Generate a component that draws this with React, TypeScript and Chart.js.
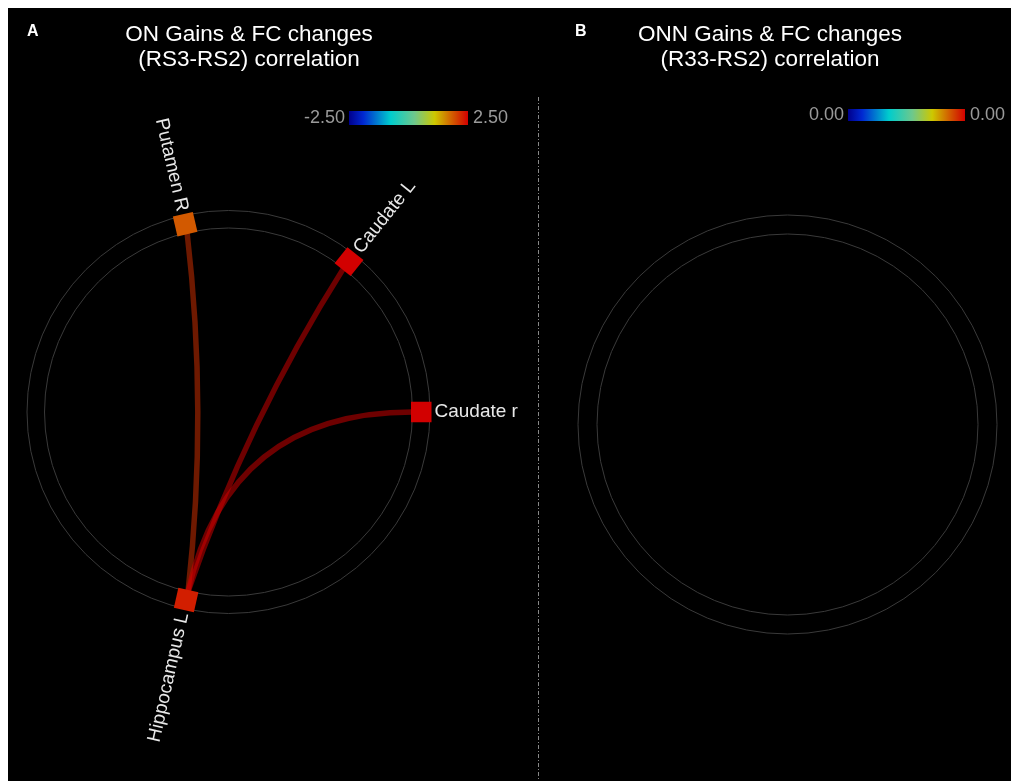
import React, { useEffect, useRef } from "react";
import { Chart, registerables } from "chart.js";

Chart.register(...registerables);

// ---- Panel A: regions, angular position (degrees clockwise from 12 o'clock) and node value
const regionsA = ["Putamen R", "Caudate L", "Caudate r", "Hippocampus L"];
const anglesA = [-13, 38.7, 90, 192.7];
const nodeValuesA = [1.86, 2.5, 2.5, 2.28];

// ---- Panel A: connections (index into regionsA) and their values
const edgeSourceA = [3, 3, 3];
const edgeTargetA = [0, 1, 2];
const edgeValuesA = [2.15, 2.5, 2.5];

// ---- Titles and colour ranges
const titlesA = ["ON Gains & FC changes", "(RS3-RS2) correlation"];
const titlesB = ["ONN Gains & FC changes", "(R33-RS2) correlation"];
const colorRangeA = [-2.5, 2.5];
const colorRangeB = [0, 0];
const panelLetters = ["A", "B"];

// ---- Layout (page pixel units, mapped by the chart's linear scales)
const PANELS = [
  {
    cx: 228.5, cy: 412, rOuter: 201.5, rInner: 184, titleX: 249,
    barX: 349, barY: 111, barW: 119, barH: 14, letterX: 27,
  },
  {
    cx: 787.5, cy: 424.5, rOuter: 209.5, rInner: 190.5, titleX: 770,
    barX: 848, barY: 109, barW: 117, barH: 12, letterX: 575,
  },
];
// how far each chord's control point is pulled from the chord midpoint towards the centre
const EDGE_BEND = [0.5, 0.5, 1.0];
const DIVIDER_X = 538;
const FONT = '"Liberation Sans", Arial, Helvetica, sans-serif';

// jet-like colour map used for nodes, links and the colour bars
const CMAP: [number, number, number, number][] = [
  [0.0, 0, 0, 140],
  [0.12, 0, 40, 210],
  [0.35, 0, 205, 205],
  [0.55, 110, 200, 140],
  [0.72, 205, 200, 0],
  [0.87, 210, 90, 0],
  [1.0, 210, 0, 0],
];

function cmapRGB(t: number): [number, number, number] {
  const tt = Math.max(0, Math.min(1, t));
  for (let i = 1; i < CMAP.length; i++) {
    if (tt <= CMAP[i][0]) {
      const a = CMAP[i - 1];
      const b = CMAP[i];
      const f = (tt - a[0]) / (b[0] - a[0]);
      return [
        Math.round(a[1] + (b[1] - a[1]) * f),
        Math.round(a[2] + (b[2] - a[2]) * f),
        Math.round(a[3] + (b[3] - a[3]) * f),
      ];
    }
  }
  const l = CMAP[CMAP.length - 1];
  return [l[1], l[2], l[3]];
}

function valueColor(v: number, range: number[], alpha = 1): string {
  const span = range[1] - range[0];
  const t = span === 0 ? 0.5 : (v - range[0]) / span;
  const [r, g, b] = cmapRGB(t);
  return `rgba(${r},${g},${b},${alpha})`;
}

function polar(p: (typeof PANELS)[number], angleDeg: number, radius: number) {
  const a = (angleDeg * Math.PI) / 180;
  return { x: p.cx + radius * Math.sin(a), y: p.cy - radius * Math.cos(a) };
}

const connectogramPlugin = {
  id: "connectogram",
  beforeDraw(chart: any) {
    const { ctx, width, height } = chart;
    ctx.save();
    ctx.fillStyle = "#000";
    ctx.fillRect(0, 0, width, height);
    ctx.restore();
  },
  beforeDatasetsDraw(chart: any) {
    const { ctx } = chart;
    const sx = chart.scales.x;
    const sy = chart.scales.y;
    const px = (x: number) => sx.getPixelForValue(x);
    const py = (y: number) => sy.getPixelForValue(y);
    const unit = Math.abs(sx.getPixelForValue(1) - sx.getPixelForValue(0));

    ctx.save();
    // rings
    PANELS.forEach((p) => {
      ctx.strokeStyle = "rgba(58,58,58,1)";
      ctx.lineWidth = 1;
      [p.rOuter, p.rInner].forEach((r) => {
        ctx.beginPath();
        ctx.arc(px(p.cx), py(p.cy), r * unit, 0, Math.PI * 2);
        ctx.stroke();
      });
    });

    // chords of panel A
    const pA = PANELS[0];
    edgeSourceA.forEach((s, i) => {
      const t = edgeTargetA[i];
      const a = polar(pA, anglesA[s], pA.rInner);
      const b = polar(pA, anglesA[t], pA.rInner);
      const mx = (a.x + b.x) / 2;
      const my = (a.y + b.y) / 2;
      const k = EDGE_BEND[i];
      const cx = mx + (pA.cx - mx) * k;
      const cy = my + (pA.cy - my) * k;
      ctx.beginPath();
      ctx.moveTo(px(a.x), py(a.y));
      ctx.quadraticCurveTo(px(cx), py(cy), px(b.x), py(b.y));
      ctx.strokeStyle = valueColor(edgeValuesA[i], colorRangeA, 0.52);
      ctx.lineWidth = 5.5;
      ctx.lineCap = "butt";
      ctx.stroke();
    });

    // divider
    ctx.strokeStyle = "rgba(160,160,160,0.85)";
    ctx.lineWidth = 1;
    ctx.setLineDash([4, 2, 1, 2]);
    ctx.beginPath();
    ctx.moveTo(Math.round(px(DIVIDER_X)) + 0.5, py(97));
    ctx.lineTo(Math.round(px(DIVIDER_X)) + 0.5, py(781));
    ctx.stroke();
    ctx.restore();
  },
  afterDraw(chart: any) {
    const { ctx } = chart;
    const sx = chart.scales.x;
    const sy = chart.scales.y;
    const px = (x: number) => sx.getPixelForValue(x);
    const py = (y: number) => sy.getPixelForValue(y);

    ctx.save();
    // region labels
    const pA = PANELS[0];
    ctx.fillStyle = "#e8e8e8";
    ctx.font = `19px ${FONT}`;
    ctx.textBaseline = "middle";
    regionsA.forEach((name, i) => {
      const pos = polar(pA, anglesA[i], 206);
      const phi = ((anglesA[i] - 90) * Math.PI) / 180;
      const rightSide = Math.sin((anglesA[i] * Math.PI) / 180) >= 0;
      ctx.save();
      ctx.translate(px(pos.x), py(pos.y));
      ctx.rotate(rightSide ? phi : phi + Math.PI);
      ctx.textAlign = rightSide ? "left" : "right";
      ctx.fillText(name, 0, 0);
      ctx.restore();
    });

    // titles, panel letters, colour bars
    const titles = [titlesA, titlesB];
    const ranges = [colorRangeA, colorRangeB];
    PANELS.forEach((p, i) => {
      ctx.fillStyle = "#ffffff";
      ctx.textAlign = "center";
      ctx.textBaseline = "middle";
      ctx.font = `22.5px ${FONT}`;
      ctx.fillText(titles[i][0], px(p.titleX), py(35));
      ctx.fillText(titles[i][1], px(p.titleX), py(60));

      ctx.textAlign = "left";
      ctx.font = `bold 16px ${FONT}`;
      ctx.fillText(panelLetters[i], px(p.letterX), py(32));

      const x0 = px(p.barX);
      const x1 = px(p.barX + p.barW);
      const grad = ctx.createLinearGradient(x0, 0, x1, 0);
      CMAP.forEach(([t, r, g, b]) => grad.addColorStop(t, `rgb(${r},${g},${b})`));
      ctx.fillStyle = grad;
      ctx.fillRect(x0, py(p.barY), x1 - x0, py(p.barY + p.barH) - py(p.barY));

      ctx.fillStyle = "#9a9a9a";
      ctx.font = `18px ${FONT}`;
      const midY = py(p.barY + p.barH / 2 + 0.5);
      ctx.textAlign = "right";
      ctx.fillText(ranges[i][0].toFixed(2), x0 - 4, midY);
      ctx.textAlign = "left";
      ctx.fillText(ranges[i][1].toFixed(2), x1 + 5, midY);
    });
    ctx.restore();
  },
};

export default function App() {
  const ref = useRef<HTMLCanvasElement>(null);

  useEffect(() => {
    document.documentElement.style.overflow = "hidden";
    const pA = PANELS[0];
    const nodeRadius = (pA.rOuter + pA.rInner) / 2;
    const nodePoints = anglesA.map((a) => polar(pA, a, nodeRadius));

    const chart = new Chart(ref.current as HTMLCanvasElement, {
      type: "scatter",
      data: {
        datasets: [
          {
            label: "Regions",
            data: nodePoints,
            pointStyle: "rect",
            pointRadius: 14.5,
            pointRotation: anglesA,
            backgroundColor: nodeValuesA.map((v) => valueColor(v, colorRangeA)),
            borderWidth: 0,
            clip: false,
          } as any,
        ],
      },
      options: {
        responsive: true,
        maintainAspectRatio: false,
        animation: false,
        events: [],
        layout: { padding: 0, autoPadding: false } as any,
        plugins: { legend: { display: false }, tooltip: { enabled: false } },
        scales: {
          x: { type: "linear", display: false, min: 8, max: 1011 },
          y: { type: "linear", display: false, min: 8, max: 781, reverse: true },
        },
      },
      plugins: [connectogramPlugin],
    });
    return () => chart.destroy();
  }, []);

  return (
    <div
      style={{
        position: "absolute",
        left: 8,
        top: 8,
        width: 1003,
        height: 773,
        background: "#000",
      }}
    >
      <canvas ref={ref} />
    </div>
  );
}
